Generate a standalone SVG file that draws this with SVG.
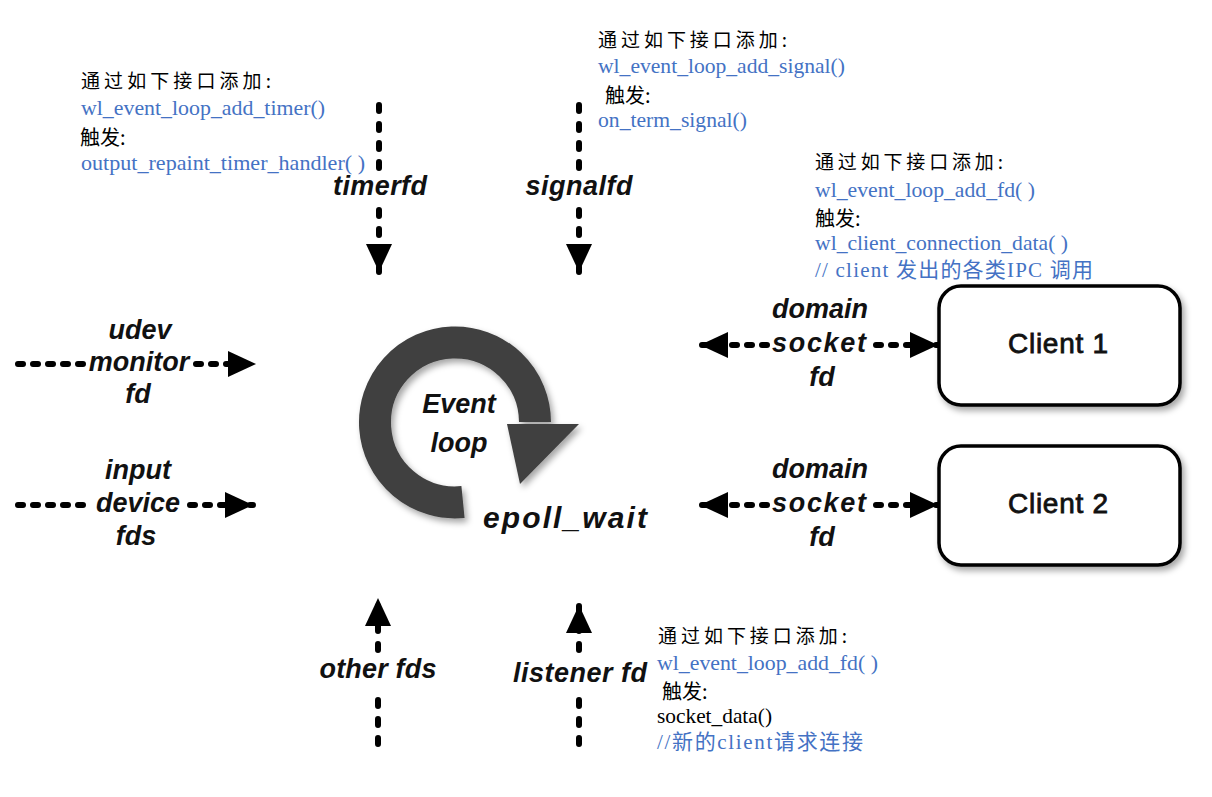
<svg xmlns="http://www.w3.org/2000/svg" width="1212" height="797" viewBox="0 0 1212 797">
<defs>
<style>
.lbl{font-family:"Liberation Sans",Arial,sans-serif;font-weight:bold;font-style:italic;font-size:27px;fill:#111;text-anchor:middle}
.ann{font-family:"Liberation Serif","Noto Sans CJK SC",serif;font-size:21px;fill:#000}
.cn{font-family:"Noto Sans CJK SC",sans-serif;font-size:19px;fill:#000}
.trig{font-family:"Noto Sans CJK SC",sans-serif;font-size:20px;fill:#000}
.blue{fill:#4472C4}
.dh{fill:none;stroke:#000;stroke-width:6;stroke-linecap:round;stroke-dasharray:5 10}
.dv{fill:none;stroke:#000;stroke-width:6;stroke-linecap:round;stroke-dasharray:6 13}
.box{fill:#fff;stroke:#000;stroke-width:3.5}
.ctext{font-family:"Liberation Sans",Arial,sans-serif;font-size:28px;fill:#111;stroke:#111;stroke-width:0.8;text-anchor:middle}
</style>
<marker id="ah" viewBox="0 0 28 26" refX="28" refY="13" markerWidth="28" markerHeight="26" markerUnits="userSpaceOnUse" orient="auto">
<path d="M0,0 L28,13 L0,26 z" fill="#000"/>
</marker>
<filter id="sh" x="-20%" y="-20%" width="140%" height="140%">
<feDropShadow dx="3" dy="4" stdDeviation="3" flood-color="#000" flood-opacity="0.35"/>
</filter>
</defs>
<rect width="1212" height="797" fill="#fff"/>

<g id="connectors">
<path class="dh" d="M18,364 H86"/>
<path class="dh" d="M196,364 H256" marker-end="url(#ah)"/>
<path class="dh" d="M18,505 H86"/>
<path class="dh" d="M190,505 H253" marker-end="url(#ah)"/>
<path class="dv" d="M379,105 V170"/>
<path class="dv" d="M379,210 V272" marker-end="url(#ah)"/>
<path class="dv" d="M579,105 V170"/>
<path class="dv" d="M579,210 V272" marker-end="url(#ah)"/>
<path class="dv" d="M378,744 V690"/>
<path class="dv" d="M378,650 V598" marker-end="url(#ah)"/>
<path class="dv" d="M579,744 V690"/>
<path class="dv" d="M579,650 V605" marker-end="url(#ah)"/>
<path class="dh" d="M767,345 H700" marker-end="url(#ah)"/>
<path class="dh" d="M876,345 H938" marker-end="url(#ah)"/>
<path class="dh" d="M767,505 H700" marker-end="url(#ah)"/>
<path class="dh" d="M876,505 H938" marker-end="url(#ah)"/>
</g>

<g id="event-loop">
<g filter="url(#sh)">
<path d="M463,502 A80,80 0 1 1 535,422" fill="none" stroke="#404040" stroke-width="32"/>
<polygon points="507,424 579,424 520,484" fill="#404040"/>
</g>
<text class="lbl" x="459" y="413">Event</text>
<text class="lbl" x="459" y="452">loop</text>
<text class="lbl" x="483" y="528" style="text-anchor:start;font-size:30px" textLength="164" lengthAdjust="spacing">epoll_wait</text>
</g>

<g id="udev-monitor-fd">
<text class="lbl" x="140" y="339">udev</text>
<text class="lbl" x="139" y="371">monitor</text>
<text class="lbl" x="138" y="403">fd</text>
</g>

<g id="input-device-fds">
<text class="lbl" x="138" y="479">input</text>
<text class="lbl" x="138" y="512">device</text>
<text class="lbl" x="136" y="545">fds</text>
</g>

<g id="timerfd">
<text class="lbl" x="380" y="195" textLength="94" lengthAdjust="spacing">timerfd</text>
</g>

<g id="signalfd">
<text class="lbl" x="579" y="195" textLength="107" lengthAdjust="spacing">signalfd</text>
</g>

<g id="other-fds">
<text class="lbl" x="378" y="678" textLength="117" lengthAdjust="spacing">other fds</text>
</g>

<g id="listener-fd">
<text class="lbl" x="580" y="682" textLength="134" lengthAdjust="spacing">listener fd</text>
</g>

<g id="domain-socket-fd-1">
<text class="lbl" x="820" y="318">domain</text>
<text class="lbl" x="819" y="352" textLength="94" lengthAdjust="spacing">socket</text>
<text class="lbl" x="822" y="386">fd</text>
</g>

<g id="domain-socket-fd-2">
<text class="lbl" x="820" y="478">domain</text>
<text class="lbl" x="819" y="512" textLength="94" lengthAdjust="spacing">socket</text>
<text class="lbl" x="822" y="546">fd</text>
</g>

<g id="client-1">
<rect class="box" x="939" y="286" width="241" height="119" rx="22" filter="url(#sh)"/>
<text class="ctext" x="1058" y="353" textLength="100" lengthAdjust="spacing">Client 1</text>
</g>

<g id="client-2">
<rect class="box" x="939" y="446" width="241" height="119" rx="22" filter="url(#sh)"/>
<text class="ctext" x="1058" y="513" textLength="100" lengthAdjust="spacing">Client 2</text>
</g>

<g id="note-timer">
<text class="cn" x="81" y="88" textLength="190" lengthAdjust="spacing">通过如下接口添加:</text>
<text class="ann blue" x="81" y="115" textLength="244" lengthAdjust="spacingAndGlyphs">wl_event_loop_add_timer()</text>
<text class="trig" x="80" y="145">触发:</text>
<text class="ann blue" x="81" y="170" textLength="284" lengthAdjust="spacingAndGlyphs">output_repaint_timer_handler( )</text>
</g>

<g id="note-signal">
<text class="cn" x="598" y="47" textLength="189" lengthAdjust="spacing">通过如下接口添加:</text>
<text class="ann blue" x="598" y="73" textLength="247" lengthAdjust="spacingAndGlyphs">wl_event_loop_add_signal()</text>
<text class="trig" x="605" y="103">触发:</text>
<text class="ann blue" x="598" y="127" textLength="149" lengthAdjust="spacingAndGlyphs">on_term_signal()</text>
</g>

<g id="note-client">
<text class="cn" x="815" y="169" textLength="188" lengthAdjust="spacing">通过如下接口添加:</text>
<text class="ann blue" x="815" y="197" textLength="220" lengthAdjust="spacingAndGlyphs">wl_event_loop_add_fd( )</text>
<text class="trig" x="815" y="226">触发:</text>
<text class="ann blue" x="815" y="250" textLength="253" lengthAdjust="spacingAndGlyphs">wl_client_connection_data( )</text>
<text class="ann blue" x="815" y="277" textLength="278" lengthAdjust="spacing">// client 发出的各类IPC 调用</text>
</g>

<g id="note-listener">
<text class="cn" x="658" y="643" textLength="189" lengthAdjust="spacing">通过如下接口添加:</text>
<text class="ann blue" x="657" y="670" textLength="221" lengthAdjust="spacingAndGlyphs">wl_event_loop_add_fd( )</text>
<text class="trig" x="662" y="699">触发:</text>
<text class="ann" x="657" y="723" textLength="115" lengthAdjust="spacingAndGlyphs">socket_data()</text>
<text class="ann blue" x="657" y="749" textLength="206" lengthAdjust="spacing">//新的client请求连接</text>
</g>
</svg>
